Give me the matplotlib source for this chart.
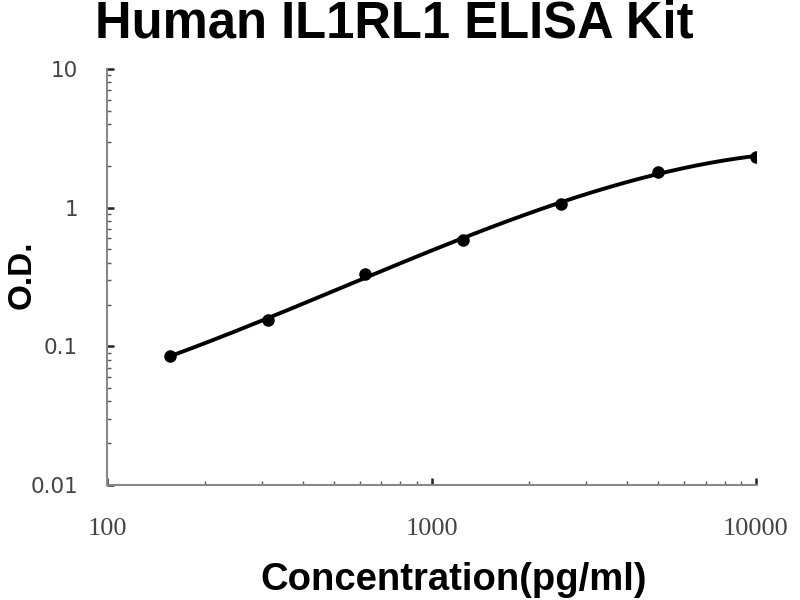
import numpy as np
import matplotlib
matplotlib.use("Agg")
import matplotlib.pyplot as plt
from matplotlib.ticker import LogLocator, FixedLocator, NullFormatter

# Data
conc = [156.25, 312.5, 625, 1250, 2500, 5000, 10000]
od = [0.085, 0.156, 0.33, 0.58, 1.07, 1.82, 2.33]
x_ticks = [100, 1000, 10000]
x_tick_labels = ["100", "1000", "10000"]
y_ticks = [0.01, 0.1, 1, 10]
y_tick_labels = ["0.01", "0.1", "1", "10"]

fig = plt.figure(figsize=(8, 6), dpi=100)
ax = fig.add_axes([0.134, 0.1917, 0.811, 0.6933])

lx = np.log10(conc)
ly = np.log10(od)
coef = np.polyfit(lx, ly, 3)
xs = np.linspace(lx[0], lx[-1], 200)
ax.plot(10**xs, 10**np.polyval(coef, xs), color="black", lw=2.8, zorder=2)
ax.plot(conc, od, "o", color="black", ms=8, zorder=3)

ax.set_xscale("log")
ax.set_yscale("log")
ax.set_xlim(100, 10000)
ax.set_ylim(0.01, 10)

ax.xaxis.set_major_locator(FixedLocator(x_ticks))
ax.yaxis.set_major_locator(FixedLocator(y_ticks))
ax.xaxis.set_minor_locator(LogLocator(base=10, subs=np.arange(2, 10)))
ax.yaxis.set_minor_locator(LogLocator(base=10, subs=np.arange(2, 10)))
ax.xaxis.set_minor_formatter(NullFormatter())
ax.yaxis.set_minor_formatter(NullFormatter())
ax.set_xticklabels(x_tick_labels, family="Liberation Serif", fontsize=19, color="#444444")
ax.set_yticklabels(y_tick_labels, family="DejaVu Sans", fontsize=15.5, color="#444444")

ax.tick_params(axis="both", which="major", direction="in", length=5, width=1.8, color="#222222")
ax.tick_params(axis="both", which="minor", direction="in", length=3, width=1, color="#555555")
ax.tick_params(axis="x", which="major", pad=24)
ax.tick_params(axis="y", which="major", pad=21)

for s in ["top", "right"]:
    ax.spines[s].set_visible(False)
for s in ["left", "bottom"]:
    ax.spines[s].set_color("#888888")
    ax.spines[s].set_linewidth(1.5)

fig.text(0.493, 0.937, "Human IL1RL1 ELISA Kit", ha="center", va="baseline",
         family="Liberation Sans", fontweight="bold", fontsize=36.5)
fig.text(0.567, 0.033, "Concentration(pg/ml)", ha="center", va="center",
         family="Liberation Sans", fontweight="bold", fontsize=27.5)
fig.text(0.028, 0.542, "O.D.", ha="center", va="center", rotation=90,
         family="Liberation Sans", fontweight="bold", fontsize=24)

fig.savefig("out.png", dpi=100)
